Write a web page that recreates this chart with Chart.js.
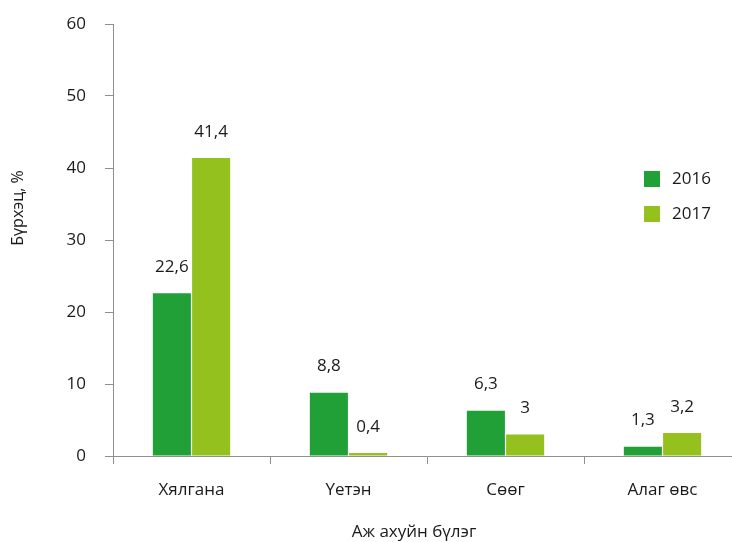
<!DOCTYPE html>
<html>
<head>
<meta charset="utf-8">
<script src="https://cdn.jsdelivr.net/npm/chart.js@4/dist/chart.umd.min.js"></script>
<style>
  html, body { margin: 0; padding: 0; background: #fff; }
  #wrap { width: 732px; height: 542px; overflow: hidden; }
  #c { display: block; }
</style>
</head>
<body>
<div id="wrap"><canvas id="c" width="741" height="542"></canvas></div>
<script>
// Plant groups and cover percentages by year
const categories = ['Хялгана', 'Үетэн', 'Сөөг', 'Алаг өвс'];
const years = ['2016', '2017'];
const cover2016 = [22.6, 8.8, 6.3, 1.3];
const cover2017 = [41.4, 0.4, 3.0, 3.2];
const yTicks = [0, 10, 20, 30, 40, 50, 60];
const colors = ['#21a038', '#95c11f'];
const xTitle = 'Аж ахуйн бүлэг';
const yTitle = 'Бүрхэц, %';

const FONT = '"Open Sans", "Noto Sans", sans-serif';
const TEXT = '#1a1a1a';
const AXIS = '#8f8f8f';

const fmt = v => String(v).replace('.', ',');

// value labels above each bar
const valueLabels = {
  id: 'valueLabels',
  afterDatasetsDraw(chart) {
    const ctx = chart.ctx;
    ctx.save();
    ctx.font = '17px ' + FONT;
    ctx.fillStyle = TEXT;
    ctx.textAlign = 'center';
    ctx.textBaseline = 'middle';
    chart.data.datasets.forEach((ds, i) => {
      chart.getDatasetMeta(i).data.forEach((bar, j) => {
        ctx.fillText(fmt(ds.data[j]), bar.x, bar.y - 26);
      });
    });
    ctx.restore();
  }
};

// legend inside the plot, right side, plus the two axis titles
const annotations = {
  id: 'annotations',
  afterDraw(chart) {
    const ctx = chart.ctx;
    ctx.save();
    ctx.font = '17px ' + FONT;
    ctx.textBaseline = 'middle';
    ctx.textAlign = 'left';
    chart.data.datasets.forEach((ds, i) => {
      const y = 171 + i * 35;
      ctx.fillStyle = ds.backgroundColor;
      ctx.fillRect(644, y, 16, 16);
      ctx.fillStyle = TEXT;
      ctx.fillText(ds.label, 672, y + 8);
    });

    ctx.textAlign = 'center';
    ctx.fillText(xTitle, 414, 532);

    ctx.font = '16px ' + FONT;
    ctx.translate(18, 208);
    ctx.rotate(-Math.PI / 2);
    ctx.fillText(yTitle, 0, 0);
    ctx.restore();
  }
};

new Chart(document.getElementById('c'), {
  type: 'bar',
  data: {
    labels: categories,
    datasets: [
      { label: years[0], data: cover2016, backgroundColor: colors[0] },
      { label: years[1], data: cover2017, backgroundColor: colors[1] }
    ]
  },
  options: {
    responsive: false,
    animation: false,
    devicePixelRatio: 1,
    layout: { padding: { top: 24, right: 0, left: 0, bottom: 0 } },
    datasets: { bar: { categoryPercentage: 0.5, barPercentage: 0.97 } },
    plugins: { legend: { display: false }, tooltip: { enabled: false } },
    scales: {
      x: {
        afterFit(s) { s.height = 86; },
        grid: { drawOnChartArea: false, drawTicks: true, tickLength: 8, color: AXIS, offset: true },
        border: { color: AXIS, width: 1 },
        ticks: { color: TEXT, font: { family: FONT, size: 17 }, padding: 16 }
      },
      y: {
        min: 0, max: 60,
        afterFit(s) { s.width = 113; s.paddingTop = 0; s.paddingBottom = 0; },
        afterBuildTicks(s) { s.ticks = yTicks.map(v => ({ value: v })); },
        grid: { drawOnChartArea: false, drawTicks: true, tickLength: 8, color: AXIS },
        border: { color: AXIS, width: 1 },
        ticks: { color: TEXT, font: { family: FONT, size: 17 }, padding: 19 }
      }
    }
  },
  plugins: [valueLabels, annotations]
});
</script>
</body>
</html>
